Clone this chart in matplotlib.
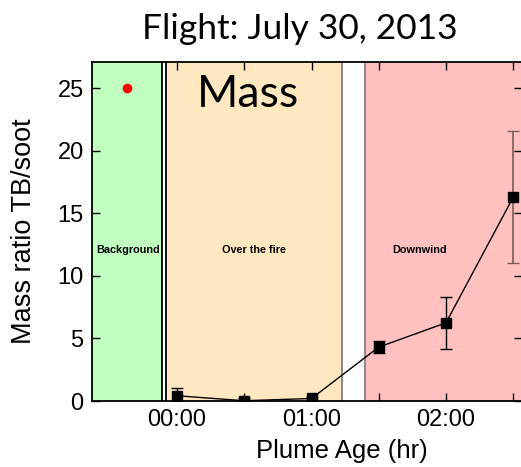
import numpy as np
import matplotlib.pyplot as plt

# plume age (hr) and TB/soot mass ratio
age = [0.0, 0.5, 1.0, 1.5, 2.0, 2.5]
ratio = [0.42, 0.02, 0.2, 4.31, 6.25, 16.3]
err = [0.6, 0.2, 0.1, 0.5, 2.1, 5.3]

bg_age = [-0.374]
bg_ratio = [25.0]

# shaded flight segments (start, end in hr)
regions = [(-0.70, -0.112), (-0.082, 1.227), (1.398, 2.70)]
region_names = ['Background', 'Over the fire', 'Downwind']
region_colors = ['#c0ffc0', '#ffe8c0', '#ffc0c0']
region_label_x = [-0.36, 0.57, 1.80]

xticks = [0.0, 0.5, 1.0, 1.5, 2.0, 2.5]
xticklabels = ['00:00', '', '01:00', '', '02:00', '']

fig = plt.figure(figsize=(5.21, 4.67), dpi=100)
ax = fig.add_axes([92/521, 1-401/467, 430/521, 339/467])

edge_l = ['black', 'black', '#808080']
edge_r = ['black', '#808080', '#808080']
for (a, b), c, el, er in zip(regions, region_colors, edge_l, edge_r):
    ax.axvspan(a, b, color=c, lw=0, zorder=0)
    ax.axvline(a, color=el, lw=1.3, zorder=1)
    ax.axvline(b, color=er, lw=1.3, zorder=1)

for name, xx in zip(region_names, region_label_x):
    ax.text(xx, 12.06, name, ha='center', va='center', fontsize=7.8,
            fontweight='bold', family='Liberation Sans')

ax.errorbar(age[:-1], ratio[:-1], yerr=err[:-1], color='black', lw=1,
            elinewidth=1, capsize=4, zorder=3)
ax.errorbar(age[-1:], ratio[-1:], yerr=err[-1:], color='#7a5a5a', lw=0,
            elinewidth=1.2, capsize=4, zorder=3)
ax.plot(age[-2:], ratio[-2:], color='black', lw=1, zorder=3)
ax.plot(age, ratio, 's', color='black', ms=7.5, zorder=4)
ax.plot(bg_age, bg_ratio, 'o', color='red', ms=6, zorder=4)

ax.text(0.53, 24.5, 'Mass', ha='center', va='center', fontsize=32, family='Lato')

ax.set_xlim(-0.632, 2.565)
ax.set_ylim(0, 27.1)
ax.set_xticks(xticks)
ax.set_xticklabels(xticklabels)
ax.set_yticks([0, 5, 10, 15, 20, 25])
ax.tick_params(direction='in', length=6, width=1, top=True, right=True,
               labelsize=17, pad=6)
for lab in ax.get_xticklabels() + ax.get_yticklabels():
    lab.set_family('Liberation Sans')
for s in ax.spines.values():
    s.set_linewidth(1.3)

ax.set_xlabel('Plume Age (hr)', fontsize=18.5, family='Liberation Sans',
              va='center', ha='center')
ax.xaxis.set_label_coords((342-92)/430, -(451-401)/339)
ax.set_ylabel('Mass ratio TB/soot', fontsize=19.5, family='Liberation Sans',
              va='center', ha='center')
ax.yaxis.set_label_coords(-(92-24)/430, (401-231)/339)
fig.text(300/521, 1-29/467, 'Flight: July 30, 2013', ha='center', va='center',
         fontsize=25.5, family='Lato')

fig.savefig('out.png', dpi=100)
